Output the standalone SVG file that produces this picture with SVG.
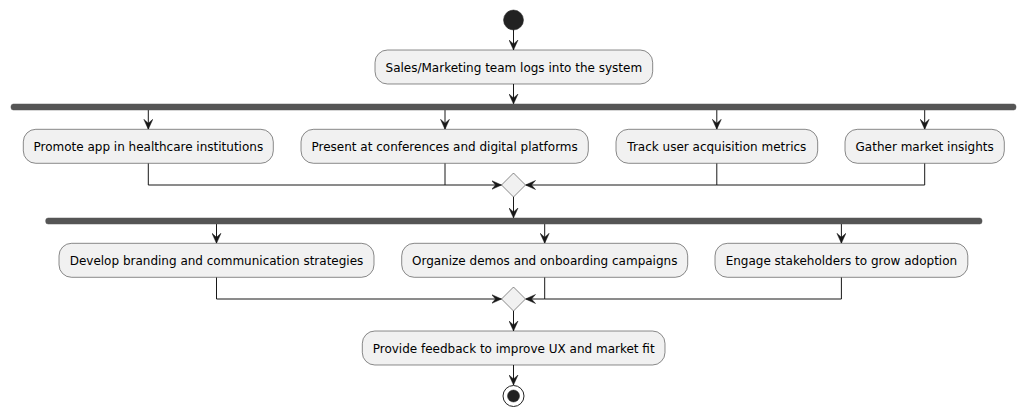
<svg xmlns="http://www.w3.org/2000/svg" width="1026" height="417" viewBox="0 0 1026 417">
<style>
.box{fill:#F1F1F1;stroke:#181818;stroke-width:0.5}
.t{font-family:"DejaVu Sans",sans-serif;font-size:12px;fill:#000000;text-anchor:middle}
.bar{fill:#555555;stroke:#555555;stroke-width:0.5}
.ln{fill:none;stroke:#181818;stroke-width:1}
.dia{fill:#F1F1F1;stroke:#181818;stroke-width:0.5}
</style>
<defs>
<marker id="ah" viewBox="0 0 10 10" refX="10" refY="5" markerWidth="10" markerHeight="10" markerUnits="userSpaceOnUse" orient="auto">
<path d="M0,0.5 L10,5 L0,9.5 L4,5 Z" fill="#181818" stroke="#181818" stroke-width="0.5"/>
</marker>
</defs>
<rect width="1026" height="417" fill="#FFFFFF"/>
<g id="connectors">
<line class="ln" x1="513.5" y1="30" x2="513.5" y2="50" marker-end="url(#ah)"/>
<line class="ln" x1="513.5" y1="84" x2="513.5" y2="104" marker-end="url(#ah)"/>
<line class="ln" x1="148.3" y1="110" x2="148.3" y2="129.3" marker-end="url(#ah)"/>
<line class="ln" x1="445" y1="110" x2="445" y2="129.3" marker-end="url(#ah)"/>
<line class="ln" x1="716.8" y1="110" x2="716.8" y2="129.3" marker-end="url(#ah)"/>
<line class="ln" x1="924.7" y1="110" x2="924.7" y2="129.3" marker-end="url(#ah)"/>
<polyline class="ln" points="148.3,163.3 148.3,185 501.5,185" marker-end="url(#ah)"/>
<line class="ln" x1="445" y1="163.3" x2="445" y2="185"/>
<polyline class="ln" points="716.8,163.3 716.8,185 525.5,185" marker-end="url(#ah)"/>
<polyline class="ln" points="924.7,163.3 924.7,185 716.8,185"/>
<line class="ln" x1="513.5" y1="197" x2="513.5" y2="218" marker-end="url(#ah)"/>
<line class="ln" x1="216.5" y1="224" x2="216.5" y2="243.3" marker-end="url(#ah)"/>
<line class="ln" x1="544.7" y1="224" x2="544.7" y2="243.3" marker-end="url(#ah)"/>
<line class="ln" x1="841.4" y1="224" x2="841.4" y2="243.3" marker-end="url(#ah)"/>
<polyline class="ln" points="216.5,277.3 216.5,299 501.5,299" marker-end="url(#ah)"/>
<polyline class="ln" points="544.7,277.3 544.7,299 525.5,299" marker-end="url(#ah)"/>
<polyline class="ln" points="841.4,277.3 841.4,299 544.7,299"/>
<line class="ln" x1="513.5" y1="311" x2="513.5" y2="331" marker-end="url(#ah)"/>
<line class="ln" x1="513.5" y1="365" x2="513.5" y2="385" marker-end="url(#ah)"/>
</g>
<g id="start"><circle cx="513.5" cy="20" r="10" fill="#222222" stroke="#222222" stroke-width="0.5"/></g>
<g id="login"><rect class="box" x="375" y="50" width="277.7" height="34" rx="12.5"/><text class="t" x="513.85" y="71.5">Sales/Marketing team logs into the system</text></g>
<g id="fork1"><rect class="bar" x="11" y="104" width="1005" height="6" rx="2.5"/></g>
<g id="promote"><rect class="box" x="23.3" y="129.3" width="250" height="34" rx="12.5"/><text class="t" x="148.3" y="150.8">Promote app in healthcare institutions</text></g>
<g id="present"><rect class="box" x="301" y="129.3" width="287.3" height="34" rx="12.5"/><text class="t" x="444.65" y="150.8">Present at conferences and digital platforms</text></g>
<g id="track"><rect class="box" x="616" y="129.3" width="201.7" height="34" rx="12.5"/><text class="t" x="716.85" y="150.8">Track user acquisition metrics</text></g>
<g id="gather"><rect class="box" x="845" y="129.3" width="159.3" height="34" rx="12.5"/><text class="t" x="924.65" y="150.8">Gather market insights</text></g>
<g id="merge1"><polygon class="dia" points="513.5,173 525.5,185 513.5,197 501.5,185"/></g>
<g id="fork2"><rect class="bar" x="45.7" y="218" width="936.3" height="6" rx="2.5"/></g>
<g id="branding"><rect class="box" x="59" y="243.3" width="315" height="34" rx="12.5"/><text class="t" x="216.5" y="264.8">Develop branding and communication strategies</text></g>
<g id="demos"><rect class="box" x="401.7" y="243.3" width="286" height="34" rx="12.5"/><text class="t" x="544.7" y="264.8">Organize demos and onboarding campaigns</text></g>
<g id="engage"><rect class="box" x="715" y="243.3" width="252.8" height="34" rx="12.5"/><text class="t" x="841.4" y="264.8">Engage stakeholders to grow adoption</text></g>
<g id="merge2"><polygon class="dia" points="513.5,287 525.5,299 513.5,311 501.5,299"/></g>
<g id="feedback"><rect class="box" x="362.3" y="331" width="302.7" height="34" rx="12.5"/><text class="t" x="513.65" y="352.5">Provide feedback to improve UX and market fit</text></g>
<g id="end"><circle cx="513.5" cy="396" r="10.5" fill="none" stroke="#222222" stroke-width="1"/><circle cx="513.5" cy="396" r="6" fill="#222222" stroke="#222222" stroke-width="0.5"/></g>
</svg>
